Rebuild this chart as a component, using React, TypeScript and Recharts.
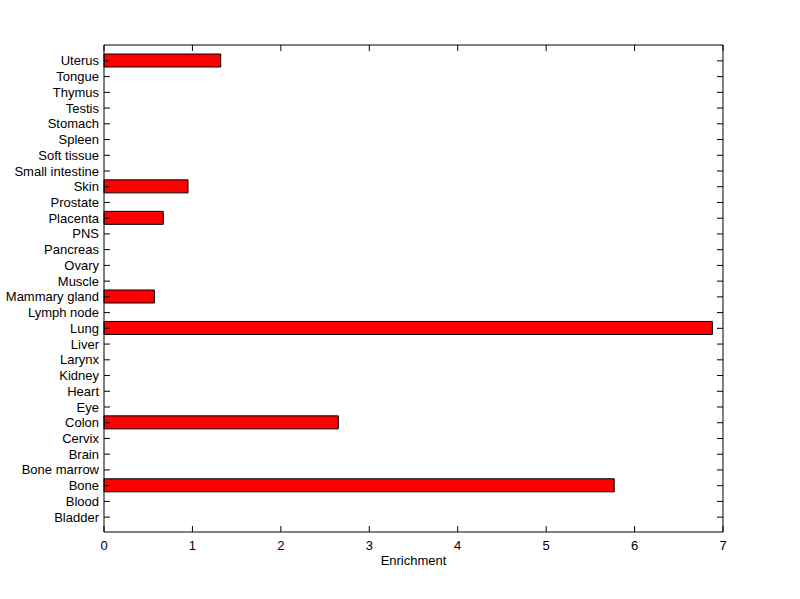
import { BarChart, Bar, XAxis, YAxis } from "recharts"

// tissues, top to bottom as drawn
const tissues = [
  "Uterus", "Tongue", "Thymus", "Testis", "Stomach", "Spleen", "Soft tissue",
  "Small intestine", "Skin", "Prostate", "Placenta", "PNS", "Pancreas", "Ovary",
  "Muscle", "Mammary gland", "Lymph node", "Lung", "Liver", "Larynx", "Kidney",
  "Heart", "Eye", "Colon", "Cervix", "Brain", "Bone marrow", "Bone", "Blood", "Bladder",
]
const enrichment = [
  1.32, 0, 0, 0, 0, 0, 0,
  0, 0.95, 0, 0.67, 0, 0, 0,
  0, 0.57, 0, 6.88, 0, 0, 0,
  0, 0, 2.65, 0, 0, 0, 5.77, 0, 0,
]
const xTicks = [0, 1, 2, 3, 4, 5, 6, 7]

const data = tissues.map((name, i) => ({ name, value: enrichment[i] }))

const FONT = "'Liberation Sans', Arial, sans-serif"
const PLOT_W = 619
const PLOT_H = 487

// bottom label + inward ticks on bottom and top edges
const XTick = (props: any) => {
  const { x, y, payload } = props
  return (
    <g>
      <line x1={x} x2={x} y1={y} y2={y - 6} stroke="#000" />
      <line x1={x} x2={x} y1={y - PLOT_H} y2={y - PLOT_H + 6} stroke="#000" />
      <text x={x} y={y + 18} textAnchor="middle" fontSize={13} fontFamily={FONT} fill="#000">
        {payload.value}
      </text>
    </g>
  )
}

// left label + inward ticks on left and right edges
const YTick = (props: any) => {
  const { x, y, payload } = props
  return (
    <g>
      <line x1={x} x2={x + 6} y1={y} y2={y} stroke="#000" />
      <line x1={x + PLOT_W - 6} x2={x + PLOT_W} y1={y} y2={y} stroke="#000" />
      <text x={x - 5} y={y + 4.5} textAnchor="end" fontSize={13} fontFamily={FONT} fill="#000">
        {payload.value}
      </text>
    </g>
  )
}

export default function App() {
  return (
    <div style={{ position: "absolute", left: 0, top: 0, width: 800, height: 599, background: "#fff" }}>
      <BarChart
        width={800}
        height={599}
        data={data}
        layout="vertical"
        margin={{ top: 44, right: 76, bottom: 0, left: 0 }}
      >
        <XAxis
          type="number"
          dataKey="value"
          domain={[0, 7]}
          ticks={xTicks}
          interval={0}
          height={67}
          tickSize={0}
          tickMargin={0}
          axisLine={{ stroke: "#000" }}
          tickLine={false}
          tick={<XTick />}
          label={{ value: "Enrichment", position: "insideTop", offset: 24, fontSize: 13, fontFamily: FONT, fill: "#000" }}
        />
        <XAxis
          xAxisId="top"
          orientation="top"
          type="number"
          domain={[0, 7]}
          height={1}
          tick={false}
          tickLine={false}
          axisLine={{ stroke: "#000" }}
        />
        <YAxis
          type="category"
          dataKey="name"
          width={104}
          interval={0}
          padding={{ top: 8, bottom: 7 }}
          tickSize={0}
          tickMargin={0}
          axisLine={{ stroke: "#000" }}
          tickLine={false}
          tick={<YTick />}
        />
        <YAxis
          yAxisId="right"
          orientation="right"
          type="category"
          dataKey="name"
          width={1}
          tick={false}
          tickLine={false}
          axisLine={{ stroke: "#000" }}
        />
        <Bar dataKey="value" fill="#ff0000" stroke="#000" strokeWidth={1} barSize={13} isAnimationActive={false} />
      </BarChart>
    </div>
  )
}
